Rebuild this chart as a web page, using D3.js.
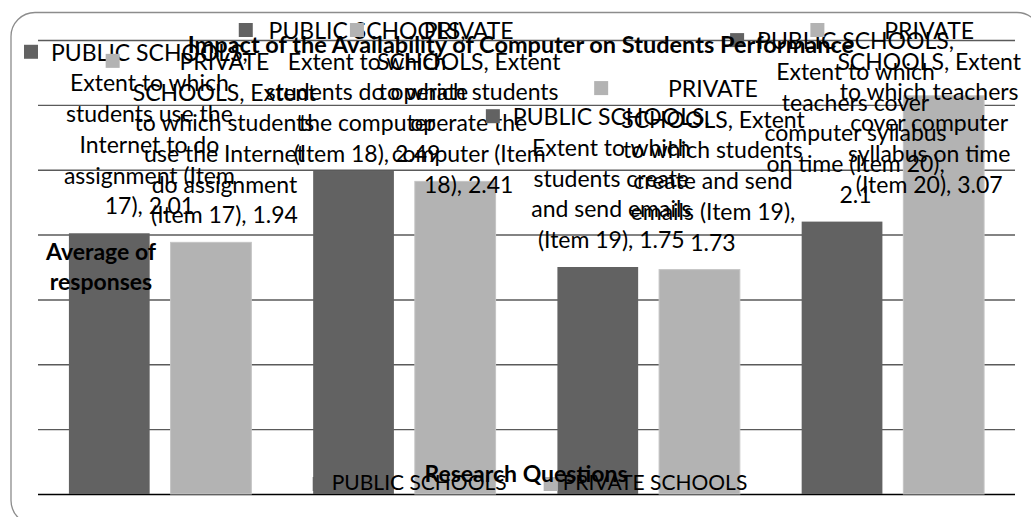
<!DOCTYPE html>
<html><head><meta charset="utf-8">
<script src="https://cdn.jsdelivr.net/npm/d3@7"></script>
<style>body{margin:0;background:#fff;} svg{display:block}</style>
</head><body>
<svg id="chart" width="1031" height="517"></svg>
<script>
// ---------------- data ----------------
const categories = [
  "Extent to which students use the Internet to do assignment (Item 17)",
  "Extent to which students do operate the computer (Item 18)",
  "Extent to which students create and send emails (Item 19)",
  "Extent to which teachers cover computer syllabus on time (Item 20)"
];
const seriesNames = ["PUBLIC SCHOOLS", "PRIVATE SCHOOLS"];
const publicValues = [2.01, 2.49, 1.75, 2.1];
const privateValues = [1.94, 2.41, 1.73, 3.07];
const yTicks = [0, 0.5, 1, 1.5, 2, 2.5, 3, 3.5];
const chartTitle = "Impact of the Availability of Computer on Students Performance";
const yAxisTitle = ["Average of", "responses"];
const xAxisTitle = "Research Questions";
// wrapped data-label lines ("{v}" is replaced by the value)
const publicLabelLines = [
  ["PUBLIC SCHOOLS,", "Extent to which", "students use the", "Internet to do", "assignment (Item", "17), {v}"],
  ["PUBLIC SCHOOLS,", "Extent to which", "students do operate", "the computer", "(Item 18), {v}"],
  ["PUBLIC SCHOOLS,", "Extent to which", "students create", "and send emails", "(Item 19), {v}"],
  ["PUBLIC SCHOOLS,", "Extent to which", "teachers cover", "computer syllabus", "on time (Item 20),", "{v}"]
];
const privateLabelLines = [
  ["PRIVATE", "SCHOOLS, Extent", "to which students", "use the Internet", "do assignment", "(Item 17), {v}"],
  ["PRIVATE", "SCHOOLS, Extent", "to which students", "operate the", "computer (Item", "18), {v}"],
  ["PRIVATE", "SCHOOLS, Extent", "to which students", "create and send", "emails (Item 19),", "{v}"],
  ["PRIVATE", "SCHOOLS, Extent", "to which teachers", "cover computer", "syllabus on time", "(Item 20), {v}"]
];

// ---------------- layout ----------------
const plot = {left: 38, right: 1015, top: 40, bottom: 494};
const colors = ["#626262", "#b3b3b3"];
const FONT = "Lato, 'Open Sans', sans-serif";
const labelSize = 23, lineH = 30.7;

const svg = d3.select("#chart");

svg.append("rect").attr("x", 11).attr("y", 12.5).attr("width", 1030).attr("height", 512)
  .attr("rx", 24).attr("fill", "#fff").attr("stroke", "#8c8c8c").attr("stroke-width", 1.3);

const x0 = d3.scaleBand().domain(categories).range([plot.left, plot.right]).paddingInner(0).paddingOuter(0);
const x1 = d3.scaleBand().domain(seriesNames).range([0, x0.bandwidth()]).paddingInner(0.206).paddingOuter(0.304);
const y = d3.scaleLinear().domain([0, 3.5]).range([plot.bottom, plot.top]);

// gridlines
const grid = svg.append("g").attr("transform", `translate(${plot.left},0)`)
  .call(d3.axisLeft(y).tickValues(yTicks).tickSize(-(plot.right - plot.left)).tickFormat(""));
grid.select(".domain").remove();
grid.selectAll(".tick line")
  .attr("stroke", d => d === 0 ? "#000" : "#5a5a5a")
  .attr("stroke-width", 1.4);

// bars
const seriesData = [publicValues, privateValues];
const rows = [];
categories.forEach((c, i) => {
  seriesNames.forEach((s, j) => rows.push({cat: c, ser: s, si: j, v: seriesData[j][i],
    lines: (j === 0 ? publicLabelLines : privateLabelLines)[i]}));
});
svg.append("g").selectAll("rect").data(rows).join("rect")
  .attr("x", d => x0(d.cat) + x1(d.ser))
  .attr("y", d => y(d.v))
  .attr("width", x1.bandwidth())
  .attr("height", d => y(0) - y(d.v))
  .attr("fill", d => colors[d.si])
  .attr("stroke", d => d.si === 1 ? "#c4c4c4" : "none")
  .attr("stroke-width", 1);

// legend
const legend = svg.append("g");
let lx = 0;
seriesNames.forEach((s, j) => {
  const g = legend.append("g");
  g.append("rect").attr("x", 0).attr("y", -13).attr("width", 14).attr("height", 14).attr("fill", colors[j]);
  const t = g.append("text").attr("x", 19).attr("y", 0).text(s)
    .attr("font-family", FONT).attr("font-size", 21).attr("fill", "#000");
  const w = 19 + t.node().getComputedTextLength();
  g.attr("transform", `translate(${lx},0)`);
  lx += w + 37;
});
const legW = lx - 37;
legend.attr("transform", `translate(${530 - legW / 2},490)`);

// axis titles
svg.append("text").attr("text-anchor", "middle")
  .attr("font-family", FONT).attr("font-weight", "bold").attr("font-size", 23)
  .selectAll("tspan").data(yAxisTitle).join("tspan")
  .attr("x", 101).attr("y", (d, i) => 260 + i * 30).text(d => d);
svg.append("text").attr("x", 526).attr("y", 482).attr("text-anchor", "middle")
  .attr("font-family", FONT).attr("font-weight", "bold").attr("font-size", 23)
  .text(xAxisTitle);

// data labels
const labG = svg.append("g");
rows.forEach(d => {
  const lines = d.lines.map(l => l.replace("{v}", String(d.v)));
  const g = labG.append("g");
  const texts = lines.map(l => g.append("text").text(l)
    .attr("font-family", FONT).attr("font-size", labelSize).attr("fill", "#000")
    .attr("text-anchor", "middle"));
  const maxW = d3.max(texts, t => t.node().getComputedTextLength());
  const boxW = 27 + maxW;
  const cx = x0(d.cat) + x1(d.ser) + x1.bandwidth() / 2;
  let left = cx - boxW / 2;
  left = Math.max(24, Math.min(1021 - boxW, left));
  const blockC = left + 27 + maxW / 2;
  let firstBase = y(d.v) - 19 - (lines.length - 1) * lineH;
  firstBase = Math.max(39, firstBase);
  texts.forEach((t, i) => t.attr("x", blockC).attr("y", firstBase + i * lineH));
  g.insert("rect", "text").attr("x", left).attr("y", firstBase - 16).attr("width", 14).attr("height", 14)
    .attr("fill", colors[d.si]);
});

// title
svg.append("text").attr("x", 521).attr("y", 53).attr("text-anchor", "middle")
  .attr("font-family", FONT).attr("font-weight", "bold").attr("font-size", 23.5)
  .attr("fill", "#000").text(chartTitle);
</script>
</body></html>
